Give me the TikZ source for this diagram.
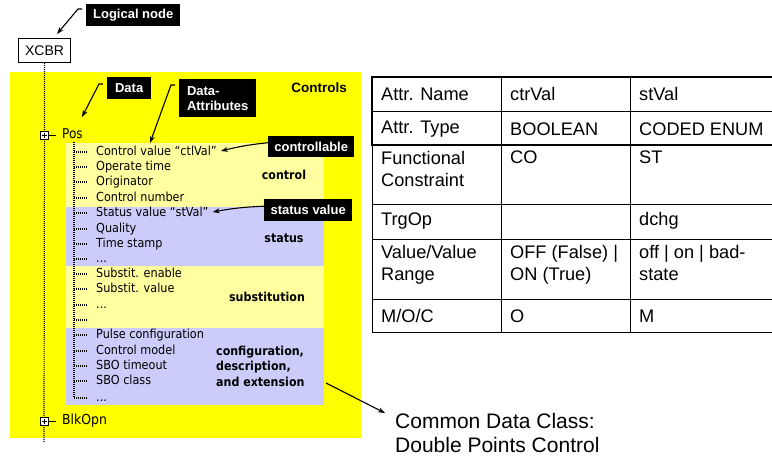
\documentclass[tikz,border=0pt]{standalone}
\usepackage{fontspec}
\setmainfont{Liberation Sans}
\newfontfamily\treefont{DejaVu Sans Condensed}
\usetikzlibrary{arrows.meta,calc}

\definecolor{hiyellow}{RGB}{255,255,0}
\definecolor{paleyellow}{RGB}{255,255,160}
\definecolor{paleblue}{RGB}{204,204,250}

\begin{document}
\begin{tikzpicture}[x=1pt,y=-1pt,
  tag/.style={fill=black,text=white,font=\bfseries\fontsize{13}{15}\selectfont,
    inner sep=0pt,anchor=north west,align=center},
  item/.style={anchor=west,font=\treefont\fontsize{12.5}{14}\selectfont,
    text height=9pt,text depth=2.5pt,inner sep=0pt},
  region/.style={font=\treefont\bfseries\fontsize{12.3}{15.5}\selectfont,inner sep=0pt},
  cell/.style={anchor=west,font=\fontsize{18.2}{22.5}\selectfont,inner sep=0pt,align=left},
  conn/.style={line width=1.1pt,-{Stealth[length=7pt,width=5pt]}},
  dots/.style={line width=1.2pt,dash pattern=on 1pt off 1pt},
  plusbox/.style={draw,fill=white,line width=0.8pt,minimum size=8pt,inner sep=0pt},
  rule/.style={line width=1pt},
  bold rule/.style={line width=2.6pt}
]
\useasboundingbox (0,0) rectangle (772,459);

% backgrounds of the data object and its attribute groups
\fill[hiyellow] (10,72) rectangle (361,438);
\fill[paleyellow] (66,143) rectangle (324,207);
\fill[paleblue]   (66,207) rectangle (324,266);
\fill[paleyellow] (66,266) rectangle (324,328);
\fill[paleblue]   (66,328) rectangle (324,405);

% logical node
\node[draw,fill=white,line width=1.1pt,minimum width=52pt,minimum height=24pt,
  inner sep=0pt,font=\fontsize{14}{16}\selectfont,anchor=north west] (xcbr) at (18,38) {XCBR};
\coordinate (trunkend) at (44,443);
\draw[dots] (xcbr.south) -- (trunkend);

% data objects
\node[plusbox] (posbox) at (44,135) {};
\draw[line width=0.9pt] ($(posbox.center)+(-2.5,0)$) -- ($(posbox.center)+(2.5,0)$)
  ($(posbox.center)+(0,-2.5)$) -- ($(posbox.center)+(0,2.5)$);
\node[item,font=\treefont\fontsize{13.5}{15}\selectfont] (pos) at (62,135) {Pos};
\draw[line width=0.8pt] (posbox.east) -- ++(8,0);

\node[plusbox] (blkbox) at (44,421) {};
\draw[line width=0.9pt] ($(blkbox.center)+(-2.5,0)$) -- ($(blkbox.center)+(2.5,0)$)
  ($(blkbox.center)+(0,-2.5)$) -- ($(blkbox.center)+(0,2.5)$);
\node[item,font=\treefont\fontsize{13.8}{15}\selectfont] (blk) at (62,421) {BlkOpn};
\draw[line width=0.8pt] (blkbox.east) -- ++(8,0);

% data attributes of Pos
\coordinate (branchtop) at (74,142);
\coordinate (branchend) at (74,398);
\draw[dots] (branchtop) -- (branchend);
\foreach \y/\name/\txt in {
  152/a1/{Control value “ctlVal”},
  167/a2/{Operate time},
  182/a3/{Originator},
  198/a4/{Control number},
  213/a5/{Status value “stVal”},
  229/a6/{Quality},
  244/a7/{Time stamp},
  259/a8/{...},
  274/a9/{Substit. enable},
  289/a10/{Substit. value},
  305/a11/{...},
  320/a12/{},
  335/a13/{Pulse configuration},
  351/a14/{Control model},
  366/a15/{SBO timeout},
  381/a16/{SBO class},
  398/a17/{...}}{
  \node[item] (\name) at (96,\y) {\txt};
  \draw[dots] (74,\y) -- (88,\y);
}

% group names
\node[region] (gctl) at (284,175) {control};
\node[region] (gst) at (284,238) {status};
\node[region] (gsub) at (267,297) {substitution};
\node[region,anchor=west,align=left] (gcfg) at (216,366)
  {configuration,\\description,\\and extension};
\node[font=\bfseries\fontsize{13.5}{15}\selectfont,anchor=east,inner sep=0pt] (ctrls) at (347,88) {Controls};

% call-out tags
\node[tag,minimum width=94pt,minimum height=22pt] (ln) at (86,4) {Logical node};
\node[tag,minimum width=44pt,minimum height=22pt] (tdata) at (107,77) {Data};
\node[tag,minimum width=77pt,minimum height=38pt,align=left] (tattr) at (179,79) {Data-\\Attributes};
\node[tag,minimum width=86pt,minimum height=21pt] (tctl) at (268,136) {controllable};
\node[tag,minimum width=88pt,minimum height=22pt] (tst) at (264,199) {status value};

\coordinate (ln-s) at (82,9);
\coordinate (ln-t) at (57,34);
\draw[conn] (ln-s) -- ++(-4,0) -- (ln-t);
\coordinate (data-s) at (103,84);
\coordinate (data-t) at (82,117);
\draw[conn] (data-s) -- ++(-4,0) -- (data-t);
\coordinate (attr-s) at (175,85);
\coordinate (attr-t) at (150,143);
\draw[conn] (attr-s) -- ++(-4,0) -- (attr-t);
\draw[conn] ($(tctl.west)+(0,-4)$) to[bend right=4] ($(a1.east)+(4,-1)$);
\draw[conn] ($(tst.west)+(0,-4)$) to[bend right=4] ($(a5.east)+(4,-1)$);

% attribute table
\node[cell] (h11) at (381,94) {Attr. Name};
\node[cell] (h12) at (510,94) {ctrVal};
\node[cell] (h13) at (639,94) {stVal};
\node[cell] (h21) at (381,129) {Attr. Type};
\node[cell] (h22) at (510,129) {BOOLEAN};
\node[cell] (h23) at (639,129) {CODED ENUM};
\node[cell,anchor=north west] (c31) at (381,151) {Functional\\Constraint};
\node[cell,anchor=north west] (c32) at (510,151) {CO};
\node[cell,anchor=north west] (c33) at (639,151) {ST};
\node[cell] (c41) at (381,221) {TrgOp};
\node[cell] (c43) at (639,221) {dchg};
\node[cell,anchor=north west] (c51) at (381,245) {Value/Value\\Range};
\node[cell,anchor=north west] (c52) at (510,245) {OFF (False) |\\ON (True)};
\node[cell,anchor=north west] (c53) at (639,245) {off | on | bad-\\state};
\node[cell] (c61) at (381,316) {M/O/C};
\node[cell] (c62) at (510,316) {O};
\node[cell] (c63) at (639,316) {M};

\draw[rule] (372,111) -- (772,111)
  (372,204) -- (772,204) (372,239) -- (772,239) (372,299) -- (772,299)
  (372,332) -- (772,332)
  (501,77) -- (501,332) (630,77) -- (630,332)
  (372,145) -- (372,332.5);
\draw[bold rule] (372,145) -- (372,77) -- (772,77) (371,145) -- (772,145);

% common data class
\node[anchor=west,align=left,inner sep=0pt,font=\fontsize{21}{24}\selectfont] (cdc)
  at (395,433) {Common Data Class:\\Double Points Control};
\coordinate (cfg-s) at (326,383);
\draw[conn] (cfg-s) -- (385,413);
\end{tikzpicture}
\end{document}
